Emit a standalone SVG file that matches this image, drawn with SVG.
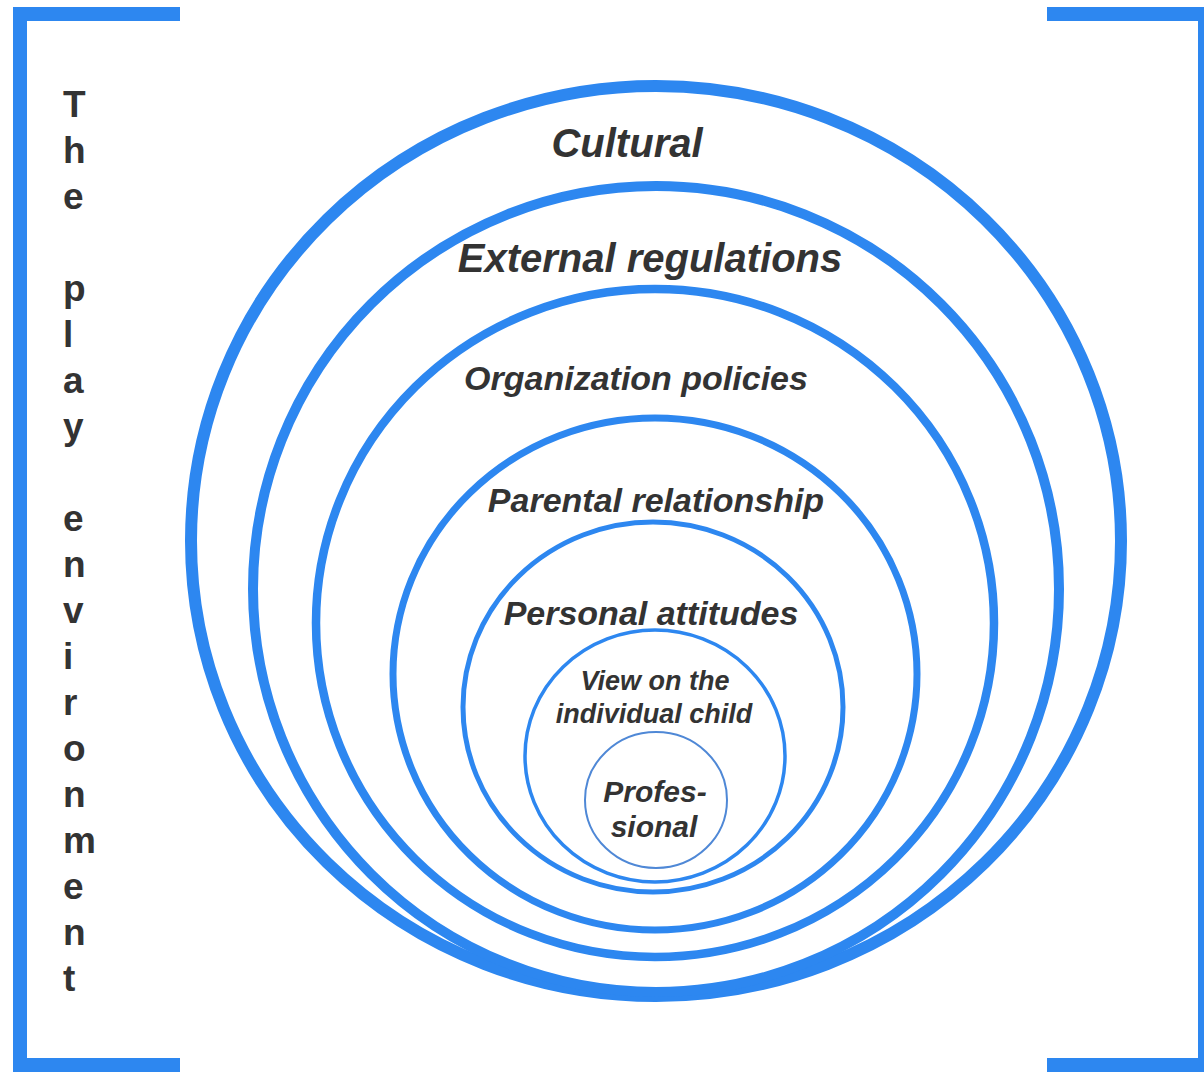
<svg xmlns="http://www.w3.org/2000/svg" width="1204" height="1074" viewBox="0 0 1204 1074">
<style>
.ring{fill:none;stroke:#2d87f0}
.lbl{font-family:"Liberation Sans",Arial,sans-serif;font-weight:bold;font-style:italic;fill:#333;text-anchor:middle}
.side{font-family:"Liberation Sans",Arial,sans-serif;font-weight:bold;fill:#333;font-size:37px}
.bracket{fill:none;stroke:#2d87f0;stroke-width:14}
</style>
<rect width="1204" height="1074" fill="#ffffff"/>
<g id="frame">
<path class="bracket" d="M180,14 H20 V1065 H180"/>
<path class="bracket" d="M1047,14 H1205 V1065 H1047"/>
</g>
<g id="side-label">
<text class="side">
<tspan x="63" y="117">T</tspan>
<tspan x="63" y="163">h</tspan>
<tspan x="63" y="209">e</tspan>
<tspan x="63" y="301">p</tspan>
<tspan x="63" y="347">l</tspan>
<tspan x="63" y="393">a</tspan>
<tspan x="63" y="439">y</tspan>
<tspan x="63" y="531">e</tspan>
<tspan x="63" y="577">n</tspan>
<tspan x="63" y="623">v</tspan>
<tspan x="63" y="669">i</tspan>
<tspan x="63" y="715">r</tspan>
<tspan x="63" y="761">o</tspan>
<tspan x="63" y="807">n</tspan>
<tspan x="63" y="853">m</tspan>
<tspan x="63" y="899">e</tspan>
<tspan x="63" y="945">n</tspan>
<tspan x="63" y="991">t</tspan>
</text>
</g>
<g id="cultural">
<ellipse class="ring" cx="656" cy="541" rx="465" ry="455" stroke-width="12"/>
<text class="lbl" x="627" y="157" font-size="40">Cultural</text>
</g>
<g id="external-regulations">
<ellipse class="ring" cx="656" cy="589" rx="403" ry="403" stroke-width="10"/>
<text class="lbl" x="650" y="272" font-size="40">External regulations</text>
</g>
<g id="organization-policies">
<ellipse class="ring" cx="655" cy="623" rx="339" ry="334" stroke-width="8.5"/>
<text class="lbl" x="636" y="390" font-size="34">Organization policies</text>
</g>
<g id="parental-relationship">
<ellipse class="ring" cx="655" cy="674" rx="262" ry="256" stroke-width="7"/>
<text class="lbl" x="656" y="512" font-size="34">Parental relationship</text>
</g>
<g id="personal-attitudes">
<ellipse class="ring" cx="653" cy="707" rx="190" ry="185" stroke-width="5"/>
<text class="lbl" x="651" y="625" font-size="34">Personal attitudes</text>
</g>
<g id="view-on-child">
<ellipse class="ring" cx="655" cy="756" rx="130" ry="126" stroke-width="3.5"/>
<text class="lbl" x="655" y="690" font-size="27">View on the</text>
<text class="lbl" x="654" y="723" font-size="27">individual child</text>
</g>
<g id="professional">
<ellipse class="ring" cx="656" cy="800" rx="71" ry="68" stroke-width="2" style="stroke:#4f88d6"/>
<text class="lbl" x="655" y="802" font-size="30">Profes-</text>
<text class="lbl" x="654" y="837" font-size="30">sional</text>
</g>
<g id="connectors"/>
</svg>
